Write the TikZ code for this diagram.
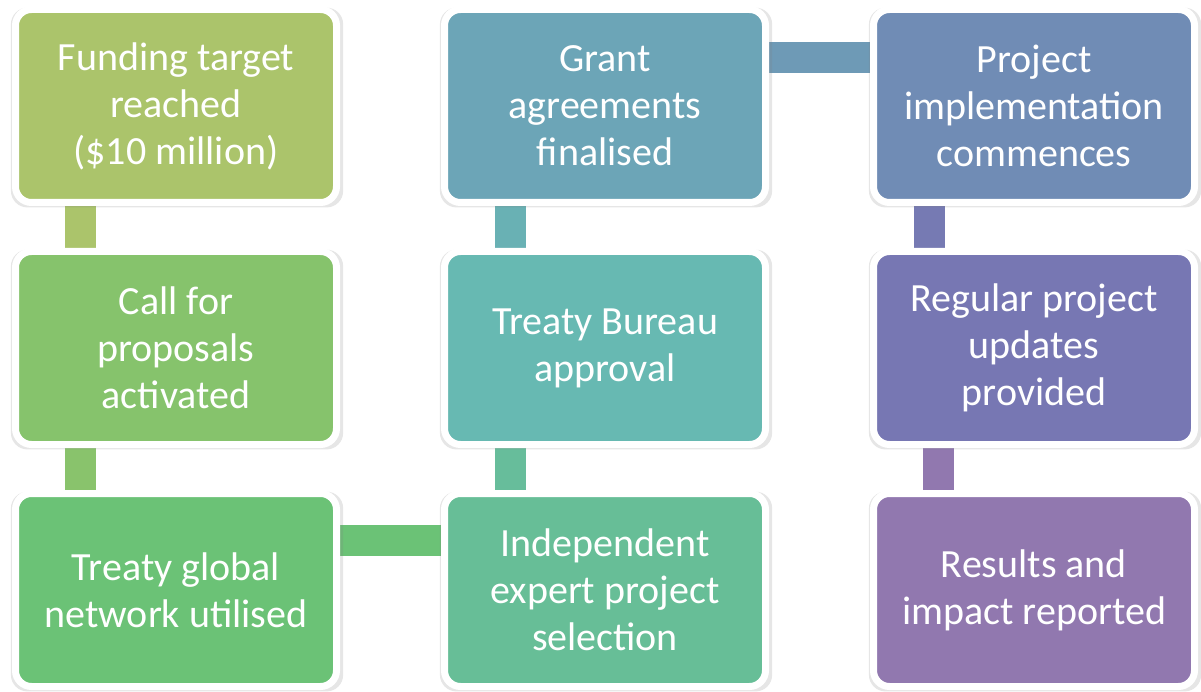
\documentclass[tikz,border=0pt]{standalone}
\usepackage{fontspec}
\setmainfont{Carlito}
\usetikzlibrary{calc,shadows,backgrounds}

\definecolor{c1}{HTML}{ABC46B}
\definecolor{c2}{HTML}{86C36C}
\definecolor{c3}{HTML}{6BC276}
\definecolor{c4}{HTML}{67BE97}
\definecolor{c5}{HTML}{67B9B2}
\definecolor{c6}{HTML}{6CA5B7}
\definecolor{c7}{HTML}{708CB5}
\definecolor{c8}{HTML}{7777B3}
\definecolor{c9}{HTML}{9178AF}

\tikzset{
  stepbox/.style={draw=white, line width=7pt, rounded corners=16pt,
    minimum width=321pt, minimum height=193pt, inner sep=0pt,
    align=center, text=white, font=\fontsize{40pt}{47pt}\selectfont,
    drop shadow={shadow xshift=1pt, shadow yshift=-1.5pt,
      shadow scale=1.035, opacity=0.2}},
  link/.style={line width=31pt, line cap=butt}
}

\begin{document}
\begin{tikzpicture}[x=1pt, y=-1pt]
            \useasboundingbox (0,0) rectangle (1201,692);
            \node[stepbox, fill=c1] at (176,106) (b1) {Funding target\\reached\\(\$10 million)};
            \node[stepbox, fill=c2] at ($(b1)+(0,242)$) (b2) {Call for\\proposals\\activated};
            \node[stepbox, fill=c3] at ($(b2)+(0,242)$) (b3) {Treaty global\\network utilised};
            \node[stepbox, fill=c4] at ($(b3)+(429,0)$) (b4) {Independent\\expert project\\selection};
            \node[stepbox, fill=c5] at ($(b4)+(0,-242)$) (b5) {Treaty Bureau\\approval};
            \node[stepbox, fill=c6] at ($(b5)+(0,-242)$) (b6) {Grant\\agreements\\finalised};
            \node[stepbox, fill=c7] at ($(b6)+(429,0)$) (b7) {Project\\implementation\\commences};
            \node[stepbox, fill=c8] at ($(b7)+(0,242)$) (b8) {Regular project\\updates\\provided};
            \node[stepbox, fill=c9] at ($(b8)+(0,242)$) (b9) {Results and\\impact reported};
            \begin{scope}[on background layer]
            \draw[link, c1] ([xshift=68pt]b1.south west) -- ([xshift=68pt]b2.north west);
            \draw[link, c2!92!c1] ([xshift=68pt]b2.south west) -- ([xshift=68pt]b3.north west);
            \draw[link, c3] ([yshift=-50pt]b3.north east) -- ([yshift=-50pt]b4.north west);
            \draw[link, c4!85!c5] ([xshift=69pt]b4.north west) -- ([xshift=69pt]b5.south west);
            \draw[link, c5!60!c6] ([xshift=69pt]b5.north west) -- ([xshift=69pt]b6.south west);
            \draw[link, c6!55!c7] ([yshift=-52pt]b6.north east) -- ([yshift=-52pt]b7.north west);
            \draw[link, c8!85!c7] ([xshift=59pt]b7.south west) -- ([xshift=59pt]b8.north west);
            \draw[link, c9] ([xshift=68pt]b8.south west) -- ([xshift=68pt]b9.north west);
            \end{scope}
        \end{tikzpicture}
\end{document}
